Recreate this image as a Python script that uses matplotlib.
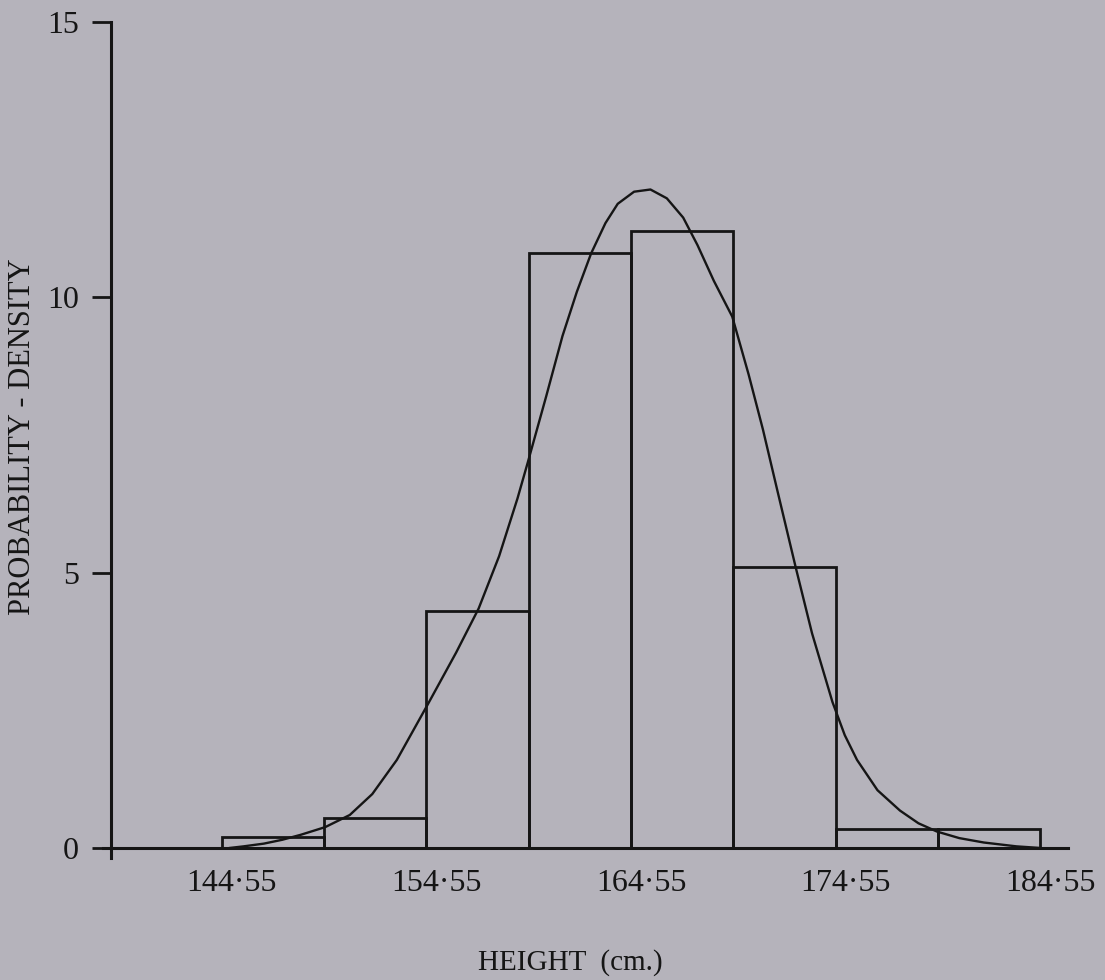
import matplotlib
matplotlib.use("Agg")
import matplotlib.pyplot as plt
from matplotlib.transforms import ScaledTranslation

# ---- data ----
bin_edges = [144.55, 149.55, 154.55, 159.55, 164.55, 169.55, 174.55, 179.55, 184.55]
bar_density = [0.2, 0.55, 4.3, 10.8, 11.2, 5.1, 0.35, 0.35]

curve_x = [144.9, 145.6, 146.6, 147.5, 148.4, 149.6, 150.8, 151.9, 153.1, 154.6,
           156.0, 157.1, 158.1, 159.0, 159.5, 160.4, 161.2, 161.9, 162.6, 163.3,
           163.9, 164.7, 165.5, 166.3, 167.1, 167.8, 168.6, 169.5, 170.3, 171.0,
           171.7, 172.6, 173.4, 174.4, 175.0, 175.6, 176.6, 177.7, 178.6, 179.5,
           180.6, 181.8, 183.4, 184.6]
curve_y = [0.0, 0.03, 0.08, 0.15, 0.24, 0.38, 0.6, 0.98, 1.6, 2.6,
           3.55, 4.35, 5.3, 6.35, 7.0, 8.2, 9.3, 10.1, 10.8, 11.35,
           11.7, 11.92, 11.96, 11.8, 11.45, 10.95, 10.3, 9.65, 8.6, 7.6,
           6.5, 5.1, 3.9, 2.65, 2.05, 1.6, 1.05, 0.68, 0.45, 0.3,
           0.18, 0.1, 0.03, 0.0]

y_ticks = [0, 5, 10, 15]
x_ticks = [144.55, 154.55, 164.55, 174.55, 184.55]
x_tick_labels = ["144\u00b755", "154\u00b755", "164\u00b755", "174\u00b755", "184\u00b755"]
x_title = "HEIGHT  (cm.)"
y_title = "PROBABILITY - DENSITY"

# ---- style ----
bg = "#b5b3bb"
ink = "#151515"
plt.rcParams['font.family'] = ['Liberation Serif', 'DejaVu Serif']

fig = plt.figure(figsize=(11.05, 9.8), dpi=100, facecolor=bg)
ax = fig.add_axes([80 / 1105, 1 - 900 / 980, 1010 / 1105, 890 / 980])
ax.set_facecolor(bg)
ax.set_xlim(137.61, 186.99)
ax.set_ylim(-0.944, 15.22)

widths = [b - a for a, b in zip(bin_edges[:-1], bin_edges[1:])]
ax.bar(bin_edges[:-1], bar_density, width=widths, align='edge', fill=False,
       edgecolor=ink, linewidth=2.0, zorder=3)
ax.plot(curve_x, curve_y, color=ink, linewidth=1.7, zorder=4,
        solid_joinstyle='round', solid_capstyle='round')

for s in ['top', 'right']:
    ax.spines[s].set_visible(False)
ax.spines['left'].set_position(('data', 139.12))
ax.spines['left'].set_bounds(-0.18, 15)
ax.spines['bottom'].set_position(('data', 0))
ax.spines['bottom'].set_bounds(138.75, 185.9)
for s in ['left', 'bottom']:
    ax.spines[s].set_linewidth(2.2)
    ax.spines[s].set_color(ink)

ax.set_yticks(y_ticks)
ax.set_yticklabels([str(t) for t in y_ticks])
ax.tick_params(axis='y', direction='out', length=14, width=2.0, color=ink,
               labelsize=23, labelcolor=ink, pad=9)
ax.set_xticks(x_ticks)
ax.set_xticklabels(x_tick_labels)
ax.tick_params(axis='x', length=0, labelsize=23, labelcolor=ink, pad=15)
shift = ScaledTranslation(10 / 100, 0, fig.dpi_scale_trans)
for lab in ax.get_xticklabels():
    lab.set_transform(lab.get_transform() + shift)

fig.text(570 / 1105, 1 - 963 / 980, x_title, ha='center', va='center',
         fontsize=21, color=ink)
fig.text(23 / 1105, 1 - 437 / 980, y_title, ha='center', va='center',
         rotation=90, fontsize=22, color=ink)

fig.savefig("out.png", dpi=100, facecolor=bg)
